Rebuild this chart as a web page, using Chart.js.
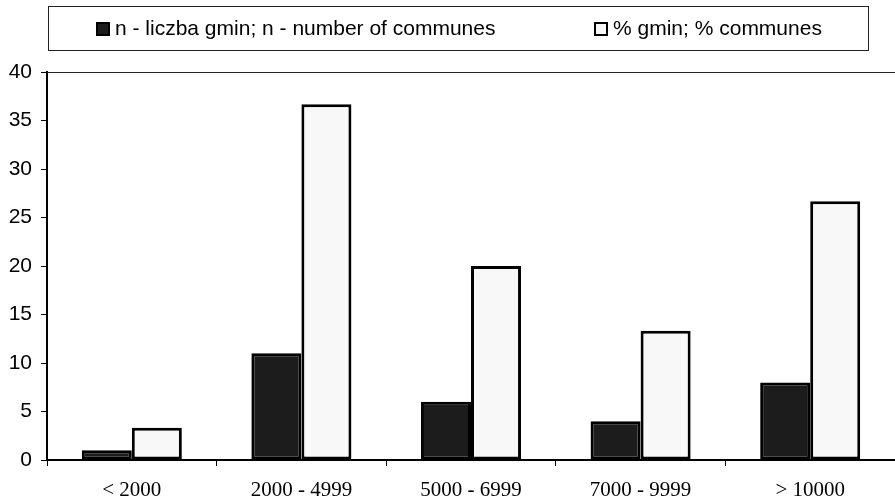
<!DOCTYPE html>
<html>
<head>
<meta charset="utf-8">
<script src="https://cdn.jsdelivr.net/npm/chart.js@4.4.1/dist/chart.umd.min.js"></script>
<style>
  html, body { margin: 0; padding: 0; background: #fff; }
  #wrap { width: 895px; height: 503px; position: relative; }
</style>
</head>
<body>
<div id="wrap"><canvas id="chart"></canvas></div>
<script>
const categories = ["< 2000", "2000 - 4999", "5000 - 6999", "7000 - 9999", "> 10000"];
const communesCount = [1, 11, 6, 4, 8];
const communesPercent = [3.33, 36.67, 20, 13.33, 26.67];
const seriesLabels = ["n - liczba gmin; n - number of communes", "% gmin; % communes"];

const sansFont = "'Liberation Sans', Arial, sans-serif";
const serifFont = "'Liberation Serif', 'Times New Roman', serif";

// boxed legend as in the scan, plus the top edge of the plot area
const framePlugin = {
    id: "frame",
    afterDraw(chart) {
        const ctx = chart.ctx;
        const area = chart.chartArea;
        ctx.save();
        ctx.strokeStyle = "#222";
        ctx.lineWidth = 1;
        ctx.strokeRect(48.5, 6.5, 820, 44);
        ctx.beginPath();
        ctx.moveTo(area.left, area.top + 0.5);
        ctx.lineTo(area.right, area.top + 0.5);
        ctx.stroke();

        const itemX = [97, 595];
        ctx.font = "21px " + sansFont;
        ctx.textBaseline = "middle";
        chart.data.datasets.forEach((ds, i) => {
            const x = itemX[i];
            ctx.fillStyle = ds.backgroundColor;
            ctx.fillRect(x, 23, 12, 12);
            ctx.lineWidth = 2;
            ctx.strokeStyle = "#000";
            ctx.strokeRect(x, 23, 12, 12);
            ctx.fillStyle = "#000";
            ctx.fillText(ds.label, x + 18, 29);
        });
        ctx.restore();
    }
};

new Chart(document.getElementById("chart"), {
    type: "bar",
    data: {
        labels: categories,
        datasets: [
            {
                label: seriesLabels[0],
                data: communesCount,
                backgroundColor: "#1c1c1c",
                borderColor: "#000",
                borderWidth: 3,
                borderSkipped: false
            },
            {
                label: seriesLabels[1],
                data: communesPercent,
                backgroundColor: "#f8f8f8",
                borderColor: "#000",
                borderWidth: 3,
                borderSkipped: false
            }
        ]
    },
    options: {
        responsive: true,
        maintainAspectRatio: false,
        animation: false,
        layout: { padding: { top: 72, right: 0, bottom: 0, left: 0 } },
        datasets: {
            bar: { categoryPercentage: 0.59, barPercentage: 1 }
        },
        plugins: {
            tooltip: { enabled: false },
            legend: { display: false }
        },
        scales: {
            x: {
                grid: {
                    drawOnChartArea: false,
                    offset: true,
                    tickLength: 6,
                    color: "#000"
                },
                border: { color: "#000", width: 2 },
                ticks: {
                    color: "#000",
                    font: { family: serifFont, size: 21 },
                    maxRotation: 0,
                    padding: 12
                },
                afterFit(scale) { scale.height = 43; }
            },
            y: {
                min: 0,
                max: 40,
                grid: {
                    drawOnChartArea: false,
                    tickLength: 6,
                    color: "#000"
                },
                border: { color: "#000", width: 2 },
                ticks: {
                    stepSize: 5,
                    color: "#000",
                    font: { family: sansFont, size: 21 },
                    padding: 9
                },
                afterFit(scale) { scale.width = 47; }
            }
        }
    },
    plugins: [framePlugin]
});
</script>
</body>
</html>
